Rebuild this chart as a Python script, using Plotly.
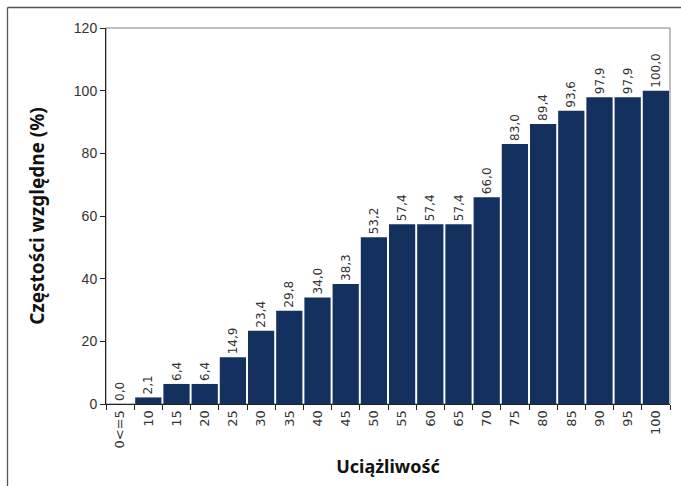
import plotly.graph_objects as go

categories = ["0<=5", "10", "15", "20", "25", "30", "35", "40", "45", "50",
              "55", "60", "65", "70", "75", "80", "85", "90", "95", "100"]
values = [0.0, 2.1, 6.4, 6.4, 14.9, 23.4, 29.8, 34.0, 38.3, 53.2,
          57.4, 57.4, 57.4, 66.0, 83.0, 89.4, 93.6, 97.9, 97.9, 100.0]
y_ticks = [0, 20, 40, 60, 80, 100, 120]

labels = [f"{v:.1f}".replace(".", ",") for v in values]

bar_color = "#13305f"

fig = go.Figure(go.Bar(
    x=categories,
    y=values,
    text=labels,
    textposition="outside",
    textangle=-90,
    constraintext="none",
    cliponaxis=False,
    textfont=dict(family="DejaVu Sans, Verdana, sans-serif", size=12, color="#333333"),
    marker=dict(color=bar_color, line=dict(width=0)),
))

W, H = 681, 486
ml, mr, mt, mb = 106, 11, 28, 82
pw, ph = W - ml - mr, H - mt - mb

def px_x(x):
    return (x - ml) / pw

def px_y(y):
    return 1 - (y - mt) / ph

fig.update_layout(
    width=W, height=H,
    margin=dict(l=ml, r=mr, t=mt, b=mb),
    paper_bgcolor="white",
    plot_bgcolor="white",
    bargap=0.07,
    showlegend=False,
    shapes=[
        # grey frame around the plotting area
        dict(type="rect", xref="paper", yref="paper", x0=0, y0=0, x1=1, y1=1,
             line=dict(color="#808080", width=1), layer="below"),
        # outer frame of the figure (left and top edges)
        dict(type="line", xref="paper", yref="paper",
             x0=px_x(7.5), y0=px_y(7.5), x1=px_x(W + 5), y1=px_y(7.5),
             line=dict(color="#555555", width=1.3)),
        dict(type="line", xref="paper", yref="paper",
             x0=px_x(7.5), y0=px_y(7.5), x1=px_x(7.5), y1=px_y(H + 5),
             line=dict(color="#555555", width=1.3)),
    ],
)

fig.update_xaxes(
    type="category",
    tickangle=-90,
    tickfont=dict(family="DejaVu Sans, Verdana, sans-serif", size=13, color="#333333"),
    showline=True, linecolor="#222222", linewidth=1,
    ticks="outside", tickson="boundaries", ticklen=5, tickcolor="#222222",
    showgrid=False,
    title=dict(text="Uciążliwość", standoff=12,
               font=dict(family="Noto Sans, Open Sans, sans-serif", size=18, color="#111111",
                         weight="bold")),
)

fig.update_yaxes(
    range=[0, 120],
    tickvals=y_ticks,
    ticktext=[str(t) for t in y_ticks],
    tickfont=dict(family="Liberation Sans Narrow, Arial Narrow, sans-serif", size=14, color="#333333"),
    showline=True, linecolor="#222222", linewidth=1,
    ticks="outside", ticklen=5, tickcolor="#222222",
    showgrid=False, zeroline=False,
    title=dict(text="Częstości względne (%)", standoff=24,
               font=dict(family="Noto Sans, Open Sans, sans-serif", size=19, color="#111111",
                         weight="bold")),
)

fig.write_html("out.html")
